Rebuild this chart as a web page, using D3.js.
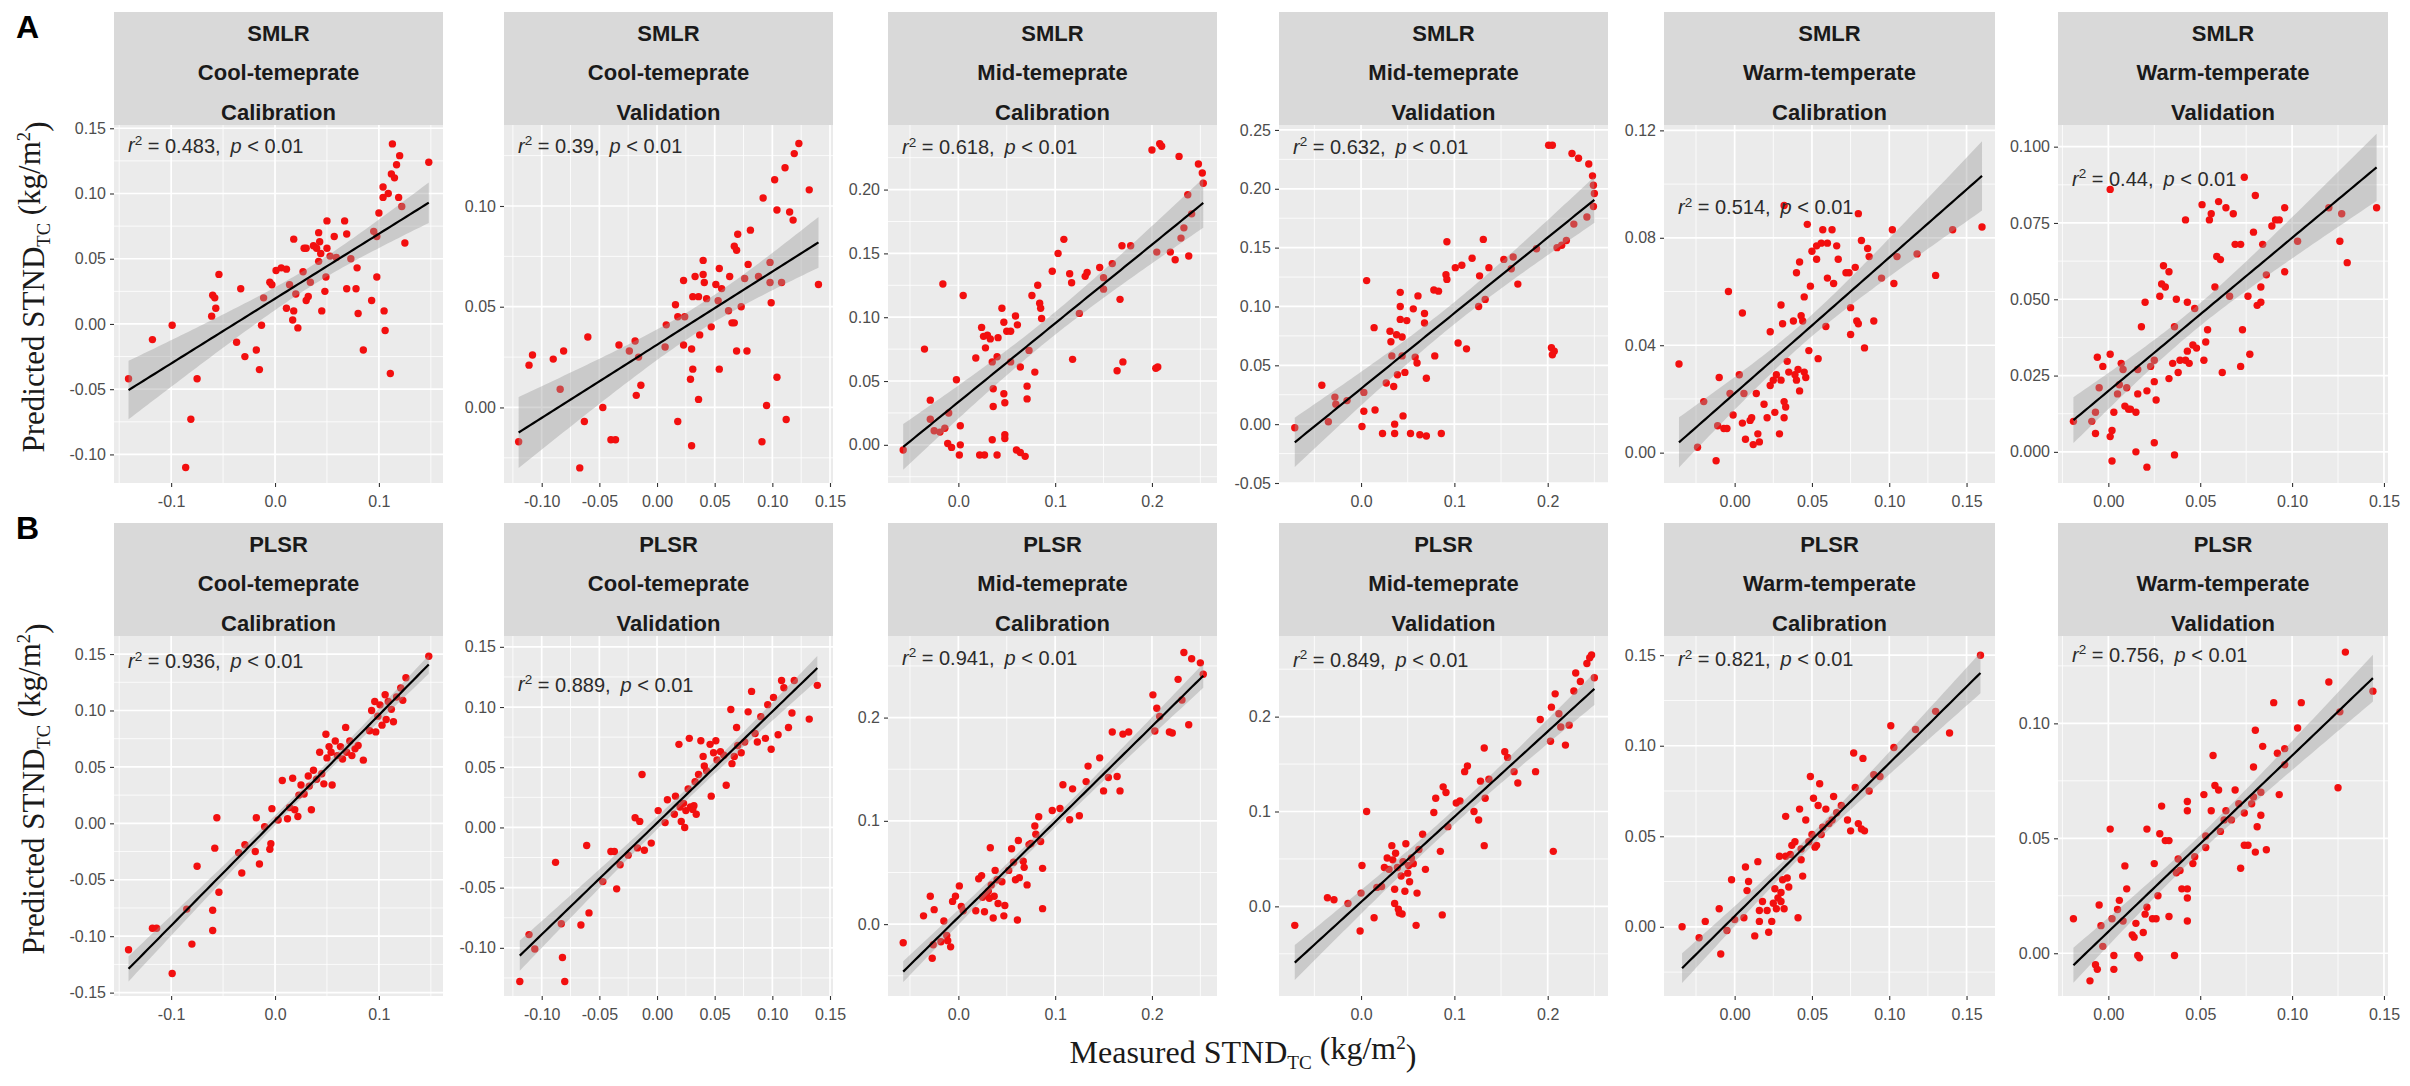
<!DOCTYPE html>
<html><head><meta charset="utf-8">
<script src="https://cdn.jsdelivr.net/npm/d3@7/dist/d3.min.js"></script>
<style>body{margin:0;background:#fff;} svg{display:block;}</style>
</head><body>
<svg id="chart" width="2410" height="1086"></svg>
<script>
// ---------------- DATA ----------------
const methods = ["SMLR", "PLSR"];
const zones = ["Cool-temeprate", "Cool-temeprate", "Mid-temeprate", "Mid-temeprate", "Warm-temperate", "Warm-temperate"];
const phases = ["Calibration", "Validation", "Calibration", "Validation", "Calibration", "Validation"];
const r2Values = [["0.483", "0.39", "0.618", "0.632", "0.514", "0.44"],
                  ["0.936", "0.889", "0.941", "0.849", "0.821", "0.756"]];
const r2LabelY = [[0.137, 0.130, 0.2335, 0.236, 0.0915, 0.0896],
                  [0.144, 0.119, 0.258, 0.260, 0.148, 0.130]];

const xDomains = [[-0.155, 0.1617], [-0.1327, 0.1526], [-0.0727, 0.2672], [-0.0879, 0.2646], [-0.0457, 0.1684], [-0.0274, 0.1522]];
const xTickLabels = [["-0.1", "0.0", "0.1"], ["-0.10", "-0.05", "0.00", "0.05", "0.10", "0.15"], ["0.0", "0.1", "0.2"],
                     ["0.0", "0.1", "0.2"], ["0.00", "0.05", "0.10", "0.15"], ["0.00", "0.05", "0.10", "0.15"]];
const yDomains = [[[-0.1219, 0.1525], [-0.0375, 0.1402], [-0.0299, 0.2506], [-0.050, 0.2542], [-0.0113, 0.122], [-0.0102, 0.1071]],
                  [[-0.153, 0.166], [-0.140, 0.159], [-0.0696, 0.279], [-0.0945, 0.285], [-0.0382, 0.1606], [-0.0186, 0.138]]];
const yTickLabels = [
  [["-0.10", "-0.05", "0.00", "0.05", "0.10", "0.15"], ["0.00", "0.05", "0.10"], ["0.00", "0.05", "0.10", "0.15", "0.20"],
   ["-0.05", "0.00", "0.05", "0.10", "0.15", "0.20", "0.25"], ["0.00", "0.04", "0.08", "0.12"], ["0.000", "0.025", "0.050", "0.075", "0.100"]],
  [["-0.15", "-0.10", "-0.05", "0.00", "0.05", "0.10", "0.15"], ["-0.10", "-0.05", "0.00", "0.05", "0.10", "0.15"], ["0.0", "0.1", "0.2"],
   ["0.0", "0.1", "0.2"], ["0.00", "0.05", "0.10", "0.15"], ["0.00", "0.05", "0.10"]]];

// measured (x), predicted (y)
const smlrCoolCal = [[-0.141,-0.042],[-0.118,-0.012],[-0.099,-0.001],[-0.081,-0.073],[-0.086,-0.110],[-0.075,-0.042],[-0.061,0.006],[-0.060,0.022],[-0.058,0.020],[-0.057,0.012],[-0.054,0.038],[-0.033,0.027],[-0.037,-0.014],[-0.029,-0.025],[-0.018,-0.020],[-0.015,-0.035],[-0.013,-0.001],[-0.011,0.020],[-0.005,0.032],[-0.003,0.030],[0.001,0.041],[0.006,0.043],[0.011,0.042],[0.011,0.012],[0.014,0.030],[0.018,0.065],[0.018,0.010],[0.017,0.003],[0.020,0.023],[0.022,-0.003],[0.027,0.040],[0.028,0.058],[0.030,0.018],[0.032,0.021],[0.034,0.032],[0.030,0.058],[0.037,0.060],[0.042,0.070],[0.040,0.058],[0.043,0.063],[0.044,0.054],[0.042,0.048],[0.045,0.010],[0.048,0.025],[0.049,0.036],[0.050,0.079],[0.050,0.058],[0.053,0.052],[0.057,0.067],[0.059,0.051],[0.067,0.079],[0.069,0.069],[0.069,0.027],[0.073,0.050],[0.078,0.027],[0.079,0.043],[0.080,0.008],[0.085,-0.020],[0.093,0.018],[0.095,0.071],[0.098,0.036],[0.098,0.067],[0.100,0.085],[0.104,0.105],[0.104,0.097],[0.105,0.010],[0.106,-0.005],[0.109,0.100],[0.111,-0.038],[0.112,0.115],[0.113,0.138],[0.115,0.112],[0.117,0.122],[0.120,0.129],[0.119,0.097],[0.122,0.090],[0.125,0.062],[0.148,0.124]];
const smlrCoolVal = [[-0.120,-0.017],[-0.111,0.021],[-0.108,0.026],[-0.090,0.024],[-0.081,0.028],[-0.084,0.009],[-0.067,-0.030],[-0.063,-0.007],[-0.060,0.035],[-0.047,0.000],[-0.040,-0.016],[-0.036,-0.016],[-0.033,0.031],[-0.024,0.028],[-0.019,0.033],[-0.018,0.006],[-0.014,0.011],[-0.016,0.025],[0.007,0.030],[0.008,0.041],[0.016,0.051],[0.018,-0.007],[0.023,0.063],[0.018,0.045],[0.024,0.045],[0.023,0.031],[0.030,0.029],[0.031,0.019],[0.029,0.014],[0.030,-0.019],[0.033,0.065],[0.031,0.055],[0.036,0.055],[0.037,0.036],[0.036,0.004],[0.040,0.073],[0.040,0.066],[0.041,0.062],[0.043,0.054],[0.047,0.040],[0.051,0.061],[0.053,0.053],[0.054,0.069],[0.054,0.019],[0.056,0.059],[0.062,0.048],[0.063,0.065],[0.065,0.042],[0.067,0.080],[0.069,0.078],[0.070,0.086],[0.067,0.042],[0.069,0.028],[0.073,0.050],[0.076,0.064],[0.079,0.071],[0.078,0.028],[0.081,0.088],[0.088,0.065],[0.091,-0.017],[0.092,0.104],[0.095,0.001],[0.098,0.062],[0.098,0.072],[0.099,0.052],[0.102,0.113],[0.104,0.098],[0.104,0.015],[0.108,0.062],[0.111,0.119],[0.112,-0.006],[0.115,0.097],[0.118,0.093],[0.119,0.126],[0.123,0.131],[0.132,0.108],[0.140,0.061]];
const smlrMidCal = [[-0.057,-0.004],[-0.035,0.075],[-0.029,0.035],[-0.029,0.020],[-0.025,0.011],[-0.019,0.010],[-0.014,0.013],[-0.016,0.126],[-0.011,0.001],[-0.010,0.025],[-0.007,-0.002],[-0.002,0.051],[0.002,0.015],[0.002,0.000],[0.001,-0.008],[0.005,0.117],[0.018,0.068],[0.022,-0.008],[0.027,-0.008],[0.024,0.092],[0.026,0.085],[0.028,0.076],[0.030,0.086],[0.033,0.083],[0.035,0.065],[0.035,0.004],[0.036,0.044],[0.036,0.030],[0.040,-0.008],[0.041,0.084],[0.040,0.069],[0.045,0.107],[0.047,0.096],[0.047,0.040],[0.048,0.033],[0.048,0.008],[0.048,0.005],[0.050,0.089],[0.054,0.065],[0.054,0.089],[0.059,0.101],[0.060,-0.004],[0.061,0.094],[0.064,0.061],[0.064,-0.006],[0.069,-0.009],[0.071,0.046],[0.071,0.036],[0.073,0.074],[0.076,0.117],[0.079,0.057],[0.082,0.125],[0.084,0.111],[0.085,0.107],[0.086,0.099],[0.097,0.136],[0.103,0.150],[0.109,0.161],[0.115,0.134],[0.118,0.067],[0.117,0.127],[0.125,0.103],[0.131,0.132],[0.133,0.135],[0.146,0.139],[0.150,0.131],[0.150,0.122],[0.159,0.142],[0.167,0.114],[0.164,0.058],[0.169,0.156],[0.170,0.065],[0.178,0.156],[0.200,0.231],[0.204,0.060],[0.206,0.061],[0.205,0.151],[0.208,0.236],[0.210,0.234],[0.219,0.151],[0.224,0.145],[0.228,0.226],[0.230,0.162],[0.233,0.170],[0.237,0.196],[0.238,0.148],[0.241,0.181],[0.248,0.220],[0.252,0.213],[0.253,0.205]];
const smlrMidVal = [[-0.071,-0.003],[-0.042,0.033],[-0.035,0.002],[-0.028,0.023],[-0.027,0.017],[-0.015,0.020],[0.001,-0.002],[0.003,0.027],[0.003,0.011],[0.006,0.122],[0.014,0.082],[0.015,0.012],[0.023,-0.008],[0.027,0.035],[0.031,0.079],[0.032,0.070],[0.035,0.032],[0.033,0.058],[0.036,0.000],[0.036,-0.008],[0.038,0.076],[0.039,0.042],[0.042,0.112],[0.042,0.100],[0.042,0.089],[0.044,0.074],[0.044,0.058],[0.045,0.007],[0.047,0.044],[0.049,0.088],[0.053,-0.008],[0.056,0.098],[0.058,0.057],[0.060,0.052],[0.061,0.109],[0.063,-0.009],[0.068,0.094],[0.068,0.086],[0.070,-0.010],[0.070,0.039],[0.078,0.114],[0.079,0.058],[0.083,0.113],[0.086,-0.008],[0.091,0.127],[0.092,0.155],[0.092,0.123],[0.101,0.133],[0.104,0.069],[0.108,0.135],[0.113,0.064],[0.119,0.141],[0.126,0.100],[0.127,0.126],[0.131,0.157],[0.133,0.106],[0.137,0.133],[0.153,0.140],[0.163,0.142],[0.161,0.132],[0.168,0.119],[0.188,0.149],[0.201,0.237],[0.205,0.237],[0.204,0.065],[0.207,0.062],[0.205,0.059],[0.210,0.150],[0.215,0.152],[0.220,0.156],[0.226,0.230],[0.228,0.170],[0.233,0.226],[0.242,0.176],[0.244,0.221],[0.248,0.211],[0.249,0.203],[0.250,0.196],[0.249,0.185]];
const smlrWarmCal = [[-0.036,0.033],[-0.024,0.002],[-0.020,0.019],[-0.012,-0.003],[-0.010,0.028],[-0.011,0.010],[-0.007,0.009],[-0.005,0.009],[-0.004,0.060],[-0.003,0.022],[-0.001,0.014],[0.003,0.029],[0.005,0.052],[0.005,0.011],[0.006,0.022],[0.007,0.005],[0.010,0.012],[0.011,0.013],[0.012,0.003],[0.014,0.022],[0.015,0.007],[0.016,0.004],[0.019,0.018],[0.021,0.013],[0.023,0.045],[0.023,0.025],[0.025,0.027],[0.026,0.015],[0.027,0.029],[0.029,0.007],[0.030,0.055],[0.031,0.048],[0.030,0.027],[0.032,0.019],[0.032,0.013],[0.033,0.017],[0.032,0.092],[0.034,0.034],[0.035,0.030],[0.038,0.049],[0.039,0.029],[0.040,0.027],[0.041,0.031],[0.040,0.067],[0.042,0.071],[0.042,0.023],[0.043,0.051],[0.044,0.049],[0.045,0.030],[0.045,0.058],[0.046,0.028],[0.047,0.085],[0.048,0.038],[0.049,0.062],[0.050,0.075],[0.053,0.072],[0.053,0.077],[0.054,0.035],[0.056,0.078],[0.057,0.083],[0.059,0.047],[0.060,0.065],[0.060,0.078],[0.063,0.083],[0.064,0.063],[0.066,0.077],[0.067,0.072],[0.072,0.067],[0.074,0.067],[0.075,0.044],[0.075,0.054],[0.078,0.069],[0.079,0.049],[0.080,0.089],[0.080,0.048],[0.082,0.079],[0.084,0.039],[0.086,0.076],[0.087,0.073],[0.090,0.049],[0.095,0.065],[0.102,0.083],[0.103,0.063],[0.105,0.073],[0.118,0.074],[0.130,0.066],[0.141,0.083],[0.160,0.084]];
const smlrWarmVal = [[-0.019,0.010],[-0.009,0.010],[-0.007,0.006],[-0.007,0.013],[-0.006,0.031],[-0.005,0.021],[-0.003,0.028],[0.001,0.032],[0.001,0.005],[0.001,0.086],[0.002,-0.003],[0.002,0.007],[0.003,0.013],[0.005,0.019],[0.006,0.022],[0.007,0.029],[0.008,0.027],[0.009,0.015],[0.010,0.021],[0.011,0.014],[0.012,0.014],[0.015,0.013],[0.015,0.000],[0.016,0.019],[0.016,0.027],[0.018,0.041],[0.020,0.049],[0.021,0.020],[0.021,-0.005],[0.023,0.028],[0.025,0.030],[0.025,0.023],[0.025,0.003],[0.026,0.017],[0.028,0.051],[0.029,0.055],[0.030,0.061],[0.031,0.054],[0.033,0.059],[0.033,0.024],[0.035,0.029],[0.036,-0.001],[0.036,0.041],[0.037,0.050],[0.038,0.026],[0.039,0.030],[0.042,0.030],[0.042,0.076],[0.043,0.049],[0.043,0.033],[0.044,0.029],[0.046,0.035],[0.047,0.047],[0.048,0.034],[0.051,0.081],[0.052,0.030],[0.053,0.036],[0.054,0.040],[0.055,0.076],[0.056,0.078],[0.058,0.054],[0.059,0.064],[0.060,0.082],[0.061,0.063],[0.062,0.026],[0.064,0.080],[0.066,0.051],[0.068,0.078],[0.069,0.068],[0.072,0.028],[0.072,0.068],[0.073,0.040],[0.074,0.090],[0.076,0.051],[0.077,0.032],[0.079,0.072],[0.080,0.084],[0.081,0.048],[0.083,0.049],[0.083,0.054],[0.084,0.068],[0.086,0.058],[0.089,0.074],[0.091,0.076],[0.093,0.076],[0.096,0.080],[0.096,0.059],[0.103,0.069],[0.120,0.080],[0.126,0.069],[0.127,0.078],[0.130,0.062],[0.146,0.080]];
const plsrCoolCal = [[-0.141,-0.112],[-0.118,-0.093],[-0.114,-0.093],[-0.099,-0.133],[-0.085,-0.076],[-0.080,-0.107],[-0.075,-0.038],[-0.060,-0.077],[-0.060,-0.095],[-0.058,-0.022],[-0.056,0.005],[-0.054,-0.061],[-0.035,-0.026],[-0.032,-0.044],[-0.029,-0.019],[-0.019,-0.025],[-0.018,0.005],[-0.015,-0.036],[-0.010,-0.003],[-0.005,-0.023],[-0.004,-0.018],[-0.003,0.013],[0.003,0.003],[0.007,0.038],[0.012,0.004],[0.014,0.014],[0.017,0.040],[0.019,0.012],[0.022,0.006],[0.023,0.025],[0.025,0.034],[0.028,0.026],[0.032,0.042],[0.033,0.033],[0.035,0.012],[0.037,0.047],[0.040,0.039],[0.043,0.063],[0.045,0.044],[0.047,0.035],[0.049,0.079],[0.050,0.058],[0.052,0.068],[0.054,0.063],[0.055,0.034],[0.058,0.073],[0.060,0.060],[0.063,0.068],[0.065,0.057],[0.068,0.085],[0.069,0.063],[0.072,0.073],[0.074,0.060],[0.077,0.066],[0.080,0.069],[0.085,0.056],[0.091,0.082],[0.093,0.100],[0.096,0.108],[0.097,0.081],[0.099,0.095],[0.101,0.105],[0.103,0.087],[0.106,0.114],[0.107,0.092],[0.109,0.108],[0.112,0.101],[0.114,0.090],[0.117,0.112],[0.121,0.120],[0.123,0.109],[0.126,0.129],[0.148,0.148]];
const plsrCoolVal = [[-0.119,-0.128],[-0.111,-0.089],[-0.106,-0.101],[-0.088,-0.029],[-0.083,-0.080],[-0.082,-0.108],[-0.080,-0.128],[-0.066,-0.081],[-0.061,-0.015],[-0.059,-0.071],[-0.047,-0.045],[-0.040,-0.020],[-0.037,-0.020],[-0.035,-0.051],[-0.032,-0.031],[-0.025,-0.023],[-0.019,0.008],[-0.017,-0.017],[-0.015,0.005],[-0.013,0.044],[-0.011,-0.019],[-0.005,-0.013],[0.001,0.014],[0.007,0.004],[0.009,0.023],[0.015,0.011],[0.016,0.026],[0.019,0.069],[0.020,0.017],[0.021,0.005],[0.023,0.020],[0.024,0.000],[0.025,0.014],[0.027,0.032],[0.028,0.074],[0.029,0.017],[0.031,0.015],[0.032,0.018],[0.033,0.038],[0.034,0.011],[0.036,0.044],[0.038,0.072],[0.040,0.059],[0.041,0.051],[0.043,0.047],[0.046,0.069],[0.047,0.026],[0.049,0.062],[0.051,0.072],[0.052,0.056],[0.055,0.063],[0.058,0.060],[0.060,0.035],[0.064,0.098],[0.065,0.053],[0.067,0.059],[0.069,0.083],[0.070,0.068],[0.073,0.062],[0.076,0.071],[0.079,0.096],[0.082,0.113],[0.085,0.078],[0.087,0.071],[0.090,0.092],[0.094,0.074],[0.096,0.102],[0.099,0.065],[0.101,0.108],[0.105,0.077],[0.108,0.122],[0.110,0.116],[0.114,0.083],[0.117,0.095],[0.119,0.122],[0.132,0.090],[0.139,0.118]];
const plsrMidCal = [[-0.057,-0.018],[-0.036,0.008],[-0.029,0.027],[-0.027,-0.033],[-0.025,0.014],[-0.026,-0.020],[-0.018,-0.017],[-0.015,0.003],[-0.012,-0.011],[-0.011,-0.016],[-0.008,-0.022],[-0.006,0.022],[-0.003,0.027],[0.001,0.037],[0.003,0.017],[0.005,0.013],[0.018,0.013],[0.021,0.044],[0.024,0.047],[0.025,0.026],[0.027,0.012],[0.029,0.029],[0.031,0.032],[0.032,0.025],[0.033,0.074],[0.034,0.038],[0.036,0.006],[0.037,0.027],[0.038,0.052],[0.040,0.043],[0.041,0.020],[0.045,0.041],[0.047,0.008],[0.048,0.018],[0.052,0.052],[0.055,0.073],[0.057,0.060],[0.059,0.043],[0.061,0.004],[0.062,0.081],[0.063,0.045],[0.067,0.061],[0.068,0.055],[0.071,0.038],[0.073,0.077],[0.075,0.078],[0.079,0.095],[0.080,0.087],[0.083,0.104],[0.085,0.080],[0.087,0.015],[0.087,0.054],[0.097,0.110],[0.105,0.112],[0.108,0.135],[0.115,0.101],[0.118,0.131],[0.125,0.105],[0.132,0.138],[0.134,0.153],[0.146,0.161],[0.150,0.129],[0.155,0.142],[0.164,0.143],[0.167,0.129],[0.159,0.186],[0.170,0.184],[0.176,0.186],[0.201,0.222],[0.203,0.187],[0.205,0.209],[0.208,0.201],[0.218,0.186],[0.221,0.185],[0.227,0.237],[0.231,0.217],[0.233,0.263],[0.238,0.193],[0.241,0.257],[0.250,0.253],[0.253,0.242]];
const plsrMidVal = [[-0.071,-0.020],[-0.036,0.009],[-0.029,0.007],[-0.014,0.003],[-0.001,-0.026],[0.000,0.014],[0.001,0.043],[0.006,0.100],[0.014,-0.012],[0.017,0.020],[0.022,0.021],[0.025,0.041],[0.028,0.051],[0.030,0.039],[0.033,0.064],[0.034,0.049],[0.036,0.018],[0.036,0.003],[0.037,0.056],[0.039,0.041],[0.040,-0.003],[0.041,-0.007],[0.043,0.032],[0.044,-0.008],[0.045,0.047],[0.047,0.016],[0.048,0.066],[0.050,0.035],[0.051,0.043],[0.052,0.026],[0.054,0.051],[0.056,0.045],[0.059,-0.020],[0.060,0.014],[0.062,0.060],[0.066,0.076],[0.069,0.039],[0.078,0.099],[0.080,0.114],[0.085,0.058],[0.087,-0.009],[0.088,0.126],[0.091,0.120],[0.093,0.084],[0.102,0.109],[0.106,0.111],[0.111,0.142],[0.114,0.148],[0.121,0.100],[0.126,0.091],[0.128,0.132],[0.132,0.167],[0.132,0.064],[0.133,0.114],[0.137,0.134],[0.154,0.163],[0.157,0.157],[0.164,0.142],[0.168,0.130],[0.187,0.142],[0.192,0.197],[0.203,0.174],[0.204,0.210],[0.206,0.058],[0.208,0.224],[0.212,0.203],[0.214,0.189],[0.219,0.170],[0.223,0.191],[0.228,0.227],[0.230,0.246],[0.235,0.237],[0.242,0.256],[0.245,0.262],[0.247,0.265],[0.250,0.241]];
const plsrWarmCal = [[-0.034,0.000],[-0.023,-0.006],[-0.019,0.003],[-0.010,0.010],[-0.009,-0.015],[-0.005,-0.002],[-0.002,0.026],[0.000,0.004],[0.006,0.005],[0.007,0.033],[0.008,0.020],[0.009,0.025],[0.013,-0.005],[0.015,0.036],[0.016,0.009],[0.016,0.003],[0.018,0.014],[0.021,0.009],[0.022,-0.003],[0.024,0.003],[0.025,0.013],[0.026,0.021],[0.027,0.010],[0.028,0.016],[0.029,0.039],[0.030,0.019],[0.030,0.014],[0.031,0.026],[0.032,0.010],[0.033,0.039],[0.033,0.061],[0.034,0.027],[0.035,0.022],[0.036,0.040],[0.037,0.045],[0.039,0.047],[0.041,0.005],[0.042,0.065],[0.043,0.037],[0.043,0.043],[0.044,0.028],[0.046,0.059],[0.048,0.047],[0.049,0.083],[0.050,0.051],[0.051,0.071],[0.052,0.044],[0.053,0.045],[0.054,0.067],[0.055,0.079],[0.056,0.051],[0.057,0.055],[0.059,0.065],[0.061,0.057],[0.063,0.059],[0.064,0.072],[0.066,0.063],[0.069,0.067],[0.073,0.059],[0.075,0.053],[0.077,0.096],[0.078,0.077],[0.080,0.057],[0.082,0.054],[0.083,0.093],[0.084,0.053],[0.087,0.075],[0.090,0.084],[0.094,0.083],[0.101,0.111],[0.103,0.099],[0.117,0.109],[0.130,0.119],[0.139,0.107],[0.159,0.150]];
const plsrWarmVal = [[-0.019,0.015],[-0.010,-0.012],[-0.007,-0.005],[-0.006,-0.007],[-0.005,0.021],[-0.004,0.012],[-0.003,0.003],[0.001,0.054],[0.002,0.015],[0.003,-0.001],[0.003,-0.007],[0.005,0.019],[0.006,0.023],[0.008,0.014],[0.009,0.038],[0.010,0.028],[0.013,0.008],[0.014,0.007],[0.015,0.013],[0.016,-0.001],[0.017,-0.002],[0.019,0.009],[0.020,0.017],[0.021,0.054],[0.021,0.020],[0.024,0.015],[0.025,0.039],[0.026,0.015],[0.027,0.025],[0.028,0.052],[0.029,0.064],[0.031,0.049],[0.033,0.049],[0.033,0.016],[0.036,-0.001],[0.037,0.035],[0.038,0.041],[0.039,0.036],[0.040,0.028],[0.043,0.014],[0.043,0.028],[0.043,0.024],[0.043,0.066],[0.043,0.062],[0.046,0.039],[0.047,0.042],[0.052,0.069],[0.053,0.051],[0.053,0.046],[0.056,0.062],[0.057,0.086],[0.058,0.073],[0.060,0.071],[0.061,0.053],[0.063,0.058],[0.064,0.062],[0.067,0.058],[0.069,0.071],[0.071,0.065],[0.072,0.037],[0.074,0.061],[0.074,0.047],[0.076,0.047],[0.078,0.065],[0.079,0.068],[0.079,0.081],[0.080,0.097],[0.080,0.044],[0.081,0.055],[0.083,0.060],[0.083,0.070],[0.084,0.090],[0.086,0.045],[0.090,0.109],[0.092,0.087],[0.093,0.069],[0.096,0.089],[0.096,0.082],[0.103,0.098],[0.105,0.109],[0.120,0.118],[0.125,0.072],[0.126,0.105],[0.129,0.131],[0.144,0.114]];

const panelData = [[smlrCoolCal, smlrCoolVal, smlrMidCal, smlrMidVal, smlrWarmCal, smlrWarmVal],
                   [plsrCoolCal, plsrCoolVal, plsrMidCal, plsrMidVal, plsrWarmCal, plsrWarmVal]];

// ---------------- LAYOUT ----------------
const svg = d3.select("#chart");
const SANS = "'Liberation Sans', Arial, sans-serif";
const SERIF = "'Liberation Serif', 'Times New Roman', serif";
const colX = [[114, 443], [504, 833], [888, 1217], [1279, 1608], [1664, 1995], [2058, 2388]];
const rows = [
  {stripTop: 12, plotTop: 125, plotBottom: 483},
  {stripTop: 523, plotTop: 636, plotBottom: 996}
];
const stripLineOffsets = [21, 60.5, 100];

function linFit(pts) {
  const n = pts.length;
  const mx = d3.mean(pts, d => d[0]), my = d3.mean(pts, d => d[1]);
  let sxx = 0, sxy = 0;
  pts.forEach(d => { sxx += (d[0] - mx) ** 2; sxy += (d[0] - mx) * (d[1] - my); });
  const b = sxy / sxx, a = my - b * mx;
  let sse = 0;
  pts.forEach(d => { sse += (d[1] - a - b * d[0]) ** 2; });
  const s = Math.sqrt(sse / (n - 2));
  return {a, b, n, mx, sxx, s};
}

rows.forEach((L, r) => {
  colX.forEach((cx, c) => {
    const g = svg.append("g");
    const x = d3.scaleLinear().domain(xDomains[c]).range([cx[0], cx[1]]);
    const y = d3.scaleLinear().domain(yDomains[r][c]).range([L.plotBottom, L.plotTop]);
    const xt = xTickLabels[c].map(Number), yt = yTickLabels[r][c].map(Number);

    // strip
    g.append("rect").attr("x", cx[0]).attr("y", L.stripTop).attr("width", cx[1] - cx[0])
      .attr("height", L.plotTop - L.stripTop).attr("fill", "#D9D9D9");
    [methods[r], zones[c], phases[c]].forEach((t, i) => {
      g.append("text").attr("x", (cx[0] + cx[1]) / 2).attr("y", L.stripTop + stripLineOffsets[i]).attr("dy", "0.36em")
        .attr("text-anchor", "middle").attr("font-family", SANS).attr("font-weight", "bold")
        .attr("font-size", 22).attr("fill", "#1A1A1A").text(t);
    });

    // panel background
    g.append("rect").attr("x", cx[0]).attr("y", L.plotTop).attr("width", cx[1] - cx[0])
      .attr("height", L.plotBottom - L.plotTop).attr("fill", "#EBEBEB");

    // grid
    const minors = (ticks, dom) => {
      const step = ticks[1] - ticks[0], out = [];
      for (let k = -3; k < ticks.length + 3; k++) {
        const v = ticks[0] + (k + 0.5) * step;
        if (v > dom[0] && v < dom[1]) out.push(v);
      }
      return out;
    };
    minors(xt, xDomains[c]).forEach(v => g.append("line").attr("x1", x(v)).attr("x2", x(v))
      .attr("y1", L.plotTop).attr("y2", L.plotBottom).attr("stroke", "#fff").attr("stroke-width", 0.8));
    minors(yt, yDomains[r][c]).forEach(v => g.append("line").attr("y1", y(v)).attr("y2", y(v))
      .attr("x1", cx[0]).attr("x2", cx[1]).attr("stroke", "#fff").attr("stroke-width", 0.8));
    xt.forEach(v => g.append("line").attr("x1", x(v)).attr("x2", x(v))
      .attr("y1", L.plotTop).attr("y2", L.plotBottom).attr("stroke", "#fff").attr("stroke-width", 1.7));
    yt.forEach(v => g.append("line").attr("y1", y(v)).attr("y2", y(v))
      .attr("x1", cx[0]).attr("x2", cx[1]).attr("stroke", "#fff").attr("stroke-width", 1.7));

    // points
    const pts = panelData[r][c];
    g.append("g").selectAll("circle").data(pts).join("circle")
      .attr("cx", d => x(d[0])).attr("cy", d => y(d[1])).attr("r", 3.7).attr("fill", "#F20F0F");

    // regression line + 95% CI
    const f = linFit(pts);
    const xmin = d3.min(pts, d => d[0]), xmax = d3.max(pts, d => d[0]);
    const tq = 1.985;
    const xs = d3.range(0, 81).map(i => xmin + (xmax - xmin) * i / 80);
    const band = xs.map(v => {
      const yh = f.a + f.b * v;
      const se = f.s * Math.sqrt(1 / f.n + (v - f.mx) ** 2 / f.sxx);
      return {v, lo: yh - tq * se, hi: yh + tq * se, yh};
    });
    g.append("path").datum(band)
      .attr("d", d3.area().x(d => x(d.v)).y0(d => y(d.lo)).y1(d => y(d.hi)))
      .attr("fill", "#999999").attr("fill-opacity", 0.4);
    g.append("path").datum(band)
      .attr("d", d3.line().x(d => x(d.v)).y(d => y(d.yh)))
      .attr("fill", "none").attr("stroke", "#000").attr("stroke-width", 2.2);

    // r2 label
    const lab = g.append("text").attr("x", cx[0] + 14).attr("y", y(r2LabelY[r][c])).attr("dy", "0.36em")
      .attr("font-family", SANS).attr("font-size", 20).attr("fill", "#2B2B2B");
    lab.append("tspan").attr("font-style", "italic").text("r");
    lab.append("tspan").attr("font-size", 13.5).attr("dy", "-0.55em").text("2");
    lab.append("tspan").attr("dy", "0.38em").text(" = " + r2Values[r][c] + ",");
    lab.append("tspan").attr("dx", 10).attr("font-style", "italic").text("p");
    lab.append("tspan").text(" < 0.01");

    // axes
    const ax = g.append("g").attr("transform", `translate(0,${L.plotBottom})`)
      .call(d3.axisBottom(x).tickValues(xt).tickFormat((d, i) => xTickLabels[c][i]).tickSize(4).tickPadding(9));
    const ay = g.append("g").attr("transform", `translate(${cx[0]},0)`)
      .call(d3.axisLeft(y).tickValues(yt).tickFormat((d, i) => yTickLabels[r][c][i]).tickSize(4).tickPadding(4));
    [ax, ay].forEach(a => {
      a.select(".domain").remove();
      a.selectAll(".tick line").attr("stroke", "#333").attr("stroke-width", 1.1);
      a.selectAll(".tick text").attr("fill", "#4D4D4D").attr("font-family", SANS).attr("font-size", 16);
    });
  });
});

// panel labels A, B
svg.append("text").attr("x", 16).attr("y", 38).attr("font-family", SANS).attr("font-weight", "bold")
  .attr("font-size", 32).attr("fill", "#000").text("A");
svg.append("text").attr("x", 16).attr("y", 539).attr("font-family", SANS).attr("font-weight", "bold")
  .attr("font-size", 32).attr("fill", "#000").text("B");

// axis titles
function titleText(sel, first) {
  sel.append("tspan").text(first + " STND");
  sel.append("tspan").attr("font-size", "0.6em").attr("dy", "0.3em").text("TC");
  sel.append("tspan").attr("dy", "-0.3em").text(" (kg/m");
  sel.append("tspan").attr("font-size", "0.6em").attr("dy", "-0.55em").text("2");
  sel.append("tspan").attr("dy", "0.55em").text(")");
}
[287, 789].forEach(cy => {
  const t = svg.append("text").attr("transform", `translate(44,${cy}) rotate(-90)`)
    .attr("text-anchor", "middle").attr("font-family", SERIF).attr("font-size", 31).attr("fill", "#1A1A1A");
  titleText(t, "Predicted");
});
const xtl = svg.append("text").attr("x", 1243).attr("y", 1063).attr("text-anchor", "middle")
  .attr("font-family", SERIF).attr("font-size", 32).attr("fill", "#1A1A1A");
titleText(xtl, "Measured");
</script>
</body></html>
